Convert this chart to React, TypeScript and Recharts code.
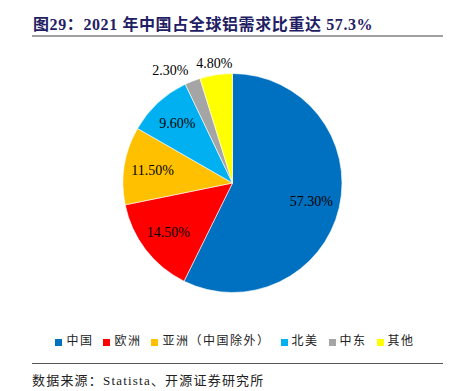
import { PieChart, Pie, Cell, Legend } from "recharts";

const regions = ["中国", "欧洲", "亚洲（中国除外）", "北美", "中东", "其他"];
const shares = [57.3, 14.5, 11.5, 9.6, 2.3, 4.8];
const colors = ["#0070C0", "#FF0000", "#FFC000", "#00B0F0", "#A5A5A5", "#FFFF00"];
const outside = [false, false, false, false, true, true];

const data = regions.map((name, i) => ({ name, value: shares[i] }));

const SERIF = "'Liberation Serif', 'Times New Roman', 'Noto Sans CJK SC', serif";
const CJK = "'Liberation Serif', 'Noto Sans CJK SC', sans-serif";
const RAD = Math.PI / 180;

function renderLabel(props: any) {
  const { cx, cy, midAngle, outerRadius, index, value } = props;
  const out = outside[index];
  const r = out ? outerRadius * 1.1 : outerRadius * 0.74;
  const x = cx + r * Math.cos(-midAngle * RAD);
  const y = cy + r * Math.sin(-midAngle * RAD);
  const anchor = out && x < cx - 30 ? "end" : "middle";
  return (
    <text x={x} y={y} textAnchor={anchor} dominantBaseline="central" fill="#000" fontSize={14} fontFamily={SERIF}>
      {value.toFixed(2)}%
    </text>
  );
}

export default function App() {
  return (
    <div style={{ position: "absolute", left: 0, top: 0, width: 452, height: 391, background: "#fff" }}>
      <div
        style={{
          position: "absolute",
          left: 33,
          top: 11,
          fontFamily: CJK,
          fontWeight: "bold",
          fontSize: 16,
          letterSpacing: 0.6,
          color: "#1F2063",
          whiteSpace: "nowrap",
        }}
      >
        图29：2021 年中国占全球铝需求比重达 57.3%
      </div>
      <div style={{ position: "absolute", left: 32, top: 35, width: 411, height: 2, background: "#A0A0A0" }} />
      <div style={{ position: "absolute", left: 0, top: 0 }}>
        <PieChart width={452} height={355} margin={{ top: 0, right: 0, bottom: 0, left: 0 }}>
          <Pie
            data={data}
            dataKey="value"
            nameKey="name"
            cx={232.5}
            cy={183}
            outerRadius={109.5}
            startAngle={90}
            endAngle={-270}
            stroke="#fff"
            strokeWidth={0.6}
            label={renderLabel}
            labelLine={false}
            isAnimationActive={false}
          >
            {data.map((d, i) => (
              <Cell key={d.name} fill={colors[i]} />
            ))}
          </Pie>
          <Legend
            iconType="square"
            iconSize={7}
            verticalAlign="bottom"
            itemSorter={(item: any) => regions.indexOf(item.value)}
            wrapperStyle={{ top: 331, bottom: "auto", left: 14, width: 452, fontFamily: CJK, fontSize: 12, letterSpacing: 1.5 }}
            formatter={(v: string) => <span style={{ color: "#222" }}>{v}</span>}
          />
        </PieChart>
      </div>
      <div style={{ position: "absolute", left: 32, top: 363, width: 411, height: 1, background: "#555" }} />
      <div
        style={{
          position: "absolute",
          left: 32,
          top: 370,
          fontFamily: CJK,
          fontSize: 13,
          color: "#222",
          whiteSpace: "nowrap",
          letterSpacing: 1.2,
        }}
      >
        数据来源：Statista、开源证券研究所
      </div>
    </div>
  );
}
